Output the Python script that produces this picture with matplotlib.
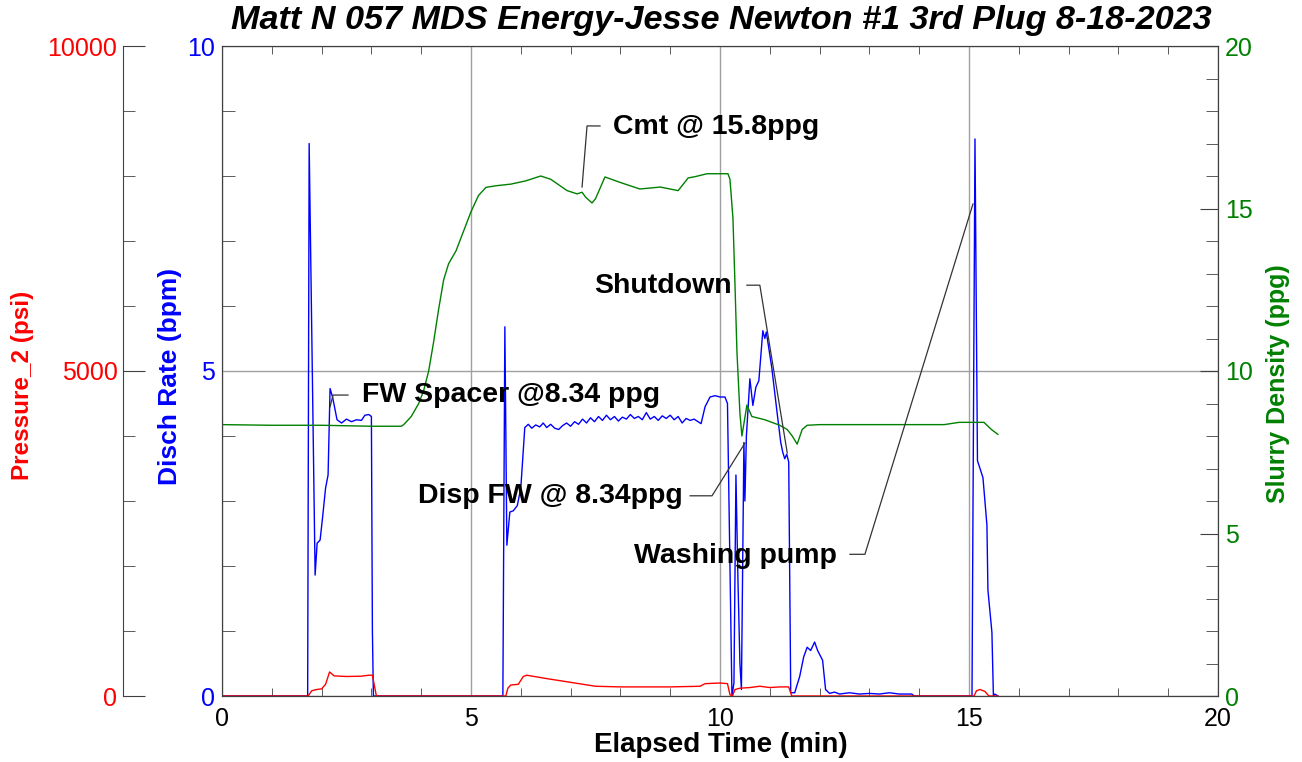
import matplotlib

matplotlib.use("Agg")
import matplotlib.pyplot as plt
from matplotlib.ticker import MultipleLocator

# Disch Rate (bpm)
rate_t = [0, 1.72, 1.75, 1.87, 1.91, 1.97, 2.02, 2.08, 2.13, 2.17, 2.22, 2.31,
          2.4, 2.5, 2.6, 2.7, 2.8, 2.87, 2.95, 3.0, 3.02, 3.04,
          5.64, 5.68, 5.72, 5.78, 5.85, 5.93, 6.0, 6.08,
          6.15, 6.22, 6.3, 6.38, 6.45, 6.52, 6.6, 6.68, 6.76, 6.84, 6.92, 7.0, 7.08,
          7.16, 7.24, 7.32, 7.4, 7.48, 7.56, 7.64, 7.72, 7.8, 7.88, 7.96, 8.04, 8.12,
          8.2, 8.28, 8.36, 8.44, 8.52, 8.6, 8.68, 8.76, 8.84, 8.92, 9.0, 9.08, 9.16,
          9.24, 9.32, 9.4, 9.48, 9.56, 9.62, 9.7, 9.8, 9.9, 10.0, 10.1, 10.15,
          10.2, 10.24, 10.28, 10.32, 10.36, 10.4, 10.43, 10.48, 10.5, 10.53, 10.6,
          10.66, 10.72, 10.78, 10.86, 10.9, 10.93, 11.04, 11.14, 11.22, 11.26, 11.3,
          11.34, 11.38, 11.42, 11.5, 11.6, 11.68, 11.75, 11.82, 11.9, 11.96, 12.06,
          12.12, 12.2, 12.3, 12.4, 12.6, 12.8, 13.0, 13.2, 13.4, 13.6, 13.85, 13.9,
          15.06, 15.12, 15.17, 15.2, 15.28, 15.36, 15.38, 15.46, 15.49, 15.52, 15.58]
rate_v = [0, 0, 8.5, 1.86, 2.35, 2.4, 2.75, 3.2, 3.4, 4.73, 4.6, 4.25,
          4.2, 4.26, 4.22, 4.25, 4.24, 4.32, 4.33, 4.3, 1.0, 0,
          0, 5.68, 2.32, 2.83, 2.85, 2.93, 3.2, 4.13,
          4.18, 4.12, 4.17, 4.14, 4.2, 4.13, 4.18, 4.12, 4.1, 4.16, 4.2, 4.15, 4.22,
          4.18, 4.26, 4.2, 4.28, 4.22, 4.3, 4.24, 4.32, 4.25, 4.3, 4.23, 4.29, 4.26,
          4.33, 4.27, 4.3, 4.25, 4.36, 4.26, 4.3, 4.24, 4.31, 4.27, 4.32, 4.25, 4.3,
          4.2, 4.27, 4.24, 4.26, 4.22, 4.19, 4.45, 4.6, 4.62, 4.6, 4.6, 4.5,
          2.0, 0.0, 0.2, 3.4, 1.8, 0.5, 0.1, 3.9, 3.0, 4.0, 4.88,
          4.47, 4.75, 4.85, 5.62, 5.5, 5.6, 5.05, 4.4, 3.9, 3.75, 3.65,
          3.72, 3.6, 0.05, 0.05, 0.3, 0.6, 0.75, 0.7, 0.83, 0.7, 0.55,
          0.1, 0.04, 0.06, 0.03, 0.05, 0.03, 0.04, 0.03, 0.05, 0.03, 0.03, 0,
          0, 8.57, 3.62, 3.55, 3.36, 2.63, 1.63, 0.98, 0.0, 0.03, 0.0]

# Pressure_2 (psi)
pres_t = [0, 1.73, 1.8, 1.9, 2.0, 2.08, 2.16, 2.25, 2.5, 2.8, 2.95, 3.02, 3.1,
          5.7, 5.74, 5.8, 5.95, 6.05, 6.12, 6.5, 7.0, 7.5, 8.0, 9.0, 9.6, 9.7,
          10.0, 10.15, 10.2, 10.25, 10.3, 10.4, 10.6, 10.8, 11.0, 11.2, 11.38,
          11.44, 15.1, 15.15, 15.22, 15.32, 15.4, 15.58]
pres_v = [0, 0, 80, 100, 110, 180, 370, 310, 300, 305, 320, 320, 0,
          0, 120, 170, 180, 300, 320, 270, 210, 150, 140, 140, 150, 190,
          200, 190, 20, 0, 100, 120, 130, 150, 130, 140, 140,
          0, 0, 80, 100, 70, 0, 0]

# Slurry Density (ppg)
dens_t = [0, 1.0, 2.0, 3.0, 3.6, 3.65, 3.8, 3.95, 4.05, 4.15, 4.25, 4.35, 4.45,
          4.55, 4.7, 4.85, 5.0, 5.15, 5.3, 5.5, 5.8, 6.1, 6.4, 6.6, 6.93, 7.13,
          7.23, 7.3, 7.43, 7.5, 7.69, 8.0, 8.39, 8.8, 9.16, 9.36, 9.5, 9.74, 10.16,
          10.2, 10.26, 10.3, 10.34, 10.4, 10.44, 10.54, 10.64, 10.9, 11.2, 11.35,
          11.45, 11.55, 11.65, 11.75, 12.0, 13.0, 14.5, 14.8, 15.3, 15.45, 15.58]
dens_v = [8.35, 8.33, 8.33, 8.3, 8.3, 8.35, 8.6, 9.0, 9.4, 10.0, 10.9, 11.9, 12.8,
          13.3, 13.7, 14.3, 14.9, 15.4, 15.65, 15.7, 15.75, 15.85, 16.0, 15.9, 15.55,
          15.45, 15.5, 15.35, 15.17, 15.3, 15.97, 15.8, 15.6, 15.66, 15.55, 15.94,
          15.98, 16.07, 16.07, 15.9, 14.7, 12.7, 10.6, 8.7, 8.0, 8.95, 8.6, 8.5,
          8.33, 8.2, 8.0, 7.75, 8.2, 8.33, 8.35, 8.35, 8.35, 8.42, 8.42, 8.2, 8.05]

# annotations: text, text anchor (min, bpm), alignment, leader polyline
notes = [
    ("FW Spacer @8.34 ppg", (2.81, 4.63), "left",
     [(2.53, 4.63), (2.23, 4.63), (2.17, 4.45)]),
    ("Cmt @ 15.8ppg", (7.85, 8.76), "left",
     [(7.59, 8.77), (7.33, 8.77), (7.23, 7.83)]),
    ("Shutdown", (10.24, 6.31), "right",
     [(10.54, 6.32), (10.8, 6.32), (11.35, 3.74)]),
    ("Disp FW @ 8.34ppg", (9.26, 3.08), "right",
     [(9.4, 3.08), (9.84, 3.08), (10.5, 3.89)]),
    ("Washing pump", (12.35, 2.15), "right",
     [(12.61, 2.18), (12.91, 2.18), (15.08, 7.57)]),
]

RED = "#ff0000"
BLUE = "#0000ff"
GREEN = "#008000"
SPINE = "#404040"
SANS = ["Liberation Sans", "DejaVu Sans"]
NARROW = ["Liberation Sans Narrow", "Liberation Sans", "DejaVu Sans"]
TICK_SIZE = 18

plt.rcParams["font.family"] = SANS

fig = plt.figure(figsize=(13.02, 7.62), dpi=100)
W, H = 1302, 762
left, right, top, bottom = 222, 1218, 46, 696
ax = fig.add_axes([left / W, 1 - bottom / H, (right - left) / W, (bottom - top) / H])
ax_p = ax.twinx()
ax_d = ax.twinx()

ax.plot(rate_t, rate_v, color=BLUE, lw=1.0)
ax_p.plot(pres_t, pres_v, color=RED, lw=1.0)
ax_d.plot(dens_t, dens_v, color=GREEN, lw=1.0)

# main axes (time / disch rate)
ax.set_xlim(0, 20)
ax.set_ylim(0, 10)
ax.xaxis.set_major_locator(MultipleLocator(5))
ax.xaxis.set_minor_locator(MultipleLocator(1))
ax.yaxis.set_major_locator(MultipleLocator(5))
ax.yaxis.set_minor_locator(MultipleLocator(1))
ax.grid(True, which="major", color="#a0a0a0", lw=1.0)
ax.tick_params(axis="x", which="both", direction="in", top=True, bottom=True,
               colors=SPINE, labelcolor="black", labelsize=TICK_SIZE, pad=8)
ax.tick_params(axis="x", which="major", length=0)
ax.tick_params(axis="x", which="minor", length=6)
ax.tick_params(axis="y", which="both", direction="in", left=True, right=False,
               colors=SPINE, labelcolor=BLUE, labelsize=TICK_SIZE, pad=5)
ax.tick_params(axis="y", which="major", length=0)
ax.tick_params(axis="y", which="minor", length=9)
for s in ax.spines.values():
    s.set_color(SPINE)

# pressure axis on the far left
ax_p.set_ylim(0, 10000)
ax_p.yaxis.set_ticks_position("left")
ax_p.yaxis.set_label_position("left")
ax_p.spines["left"].set_position(("axes", (123 - left) / (right - left)))
ax_p.spines["left"].set_visible(True)
ax_p.spines["left"].set_color(SPINE)
for k in ("right", "top", "bottom"):
    ax_p.spines[k].set_visible(False)
ax_p.yaxis.set_major_locator(MultipleLocator(5000))
ax_p.yaxis.set_minor_locator(MultipleLocator(1000))
ax_p.tick_params(axis="y", which="both", direction="in", colors=SPINE,
                 labelcolor=RED, labelsize=TICK_SIZE, pad=4)
ax_p.tick_params(axis="y", which="major", length=16)
ax_p.tick_params(axis="y", which="minor", length=8.5)

# density axis on the right
ax_d.set_ylim(0, 20)
ax_d.yaxis.set_major_locator(MultipleLocator(5))
ax_d.yaxis.set_minor_locator(MultipleLocator(1))
ax_d.tick_params(axis="y", which="both", direction="in", colors=SPINE,
                 labelcolor=GREEN, labelsize=TICK_SIZE, pad=5)
ax_d.tick_params(axis="y", which="major", length=13)
ax_d.tick_params(axis="y", which="minor", length=8.5)
for s in ax_d.spines.values():
    s.set_color(SPINE)

for text, (tx, ty), ha, leader in notes:
    ax_d.text(tx, ty * 2, text, ha=ha, va="center", fontsize=20.5,
              fontweight="bold", color="black")
    xs = [p[0] for p in leader]
    ys = [p[1] * 2 for p in leader]
    ax_d.plot(xs, ys, color="#333333", lw=0.9)

fig.text(721 / W, 1 - 20 / H, "Matt N 057 MDS Energy-Jesse Newton #1 3rd Plug 8-18-2023",
         ha="center", va="center", fontsize=24.7, fontweight="bold", style="italic")
fig.text(23 / W, 1 - 385 / H, "Pressure_2 (psi)", rotation=90, ha="center",
         va="center", fontsize=17.5, fontweight="bold", color=RED, family=NARROW)
fig.text(170 / W, 1 - 376 / H, "Disch Rate (bpm)", rotation=90, ha="center",
         va="center", fontsize=19, fontweight="bold", color=BLUE, family=NARROW)
fig.text(1278 / W, 1 - 384 / H, "Slurry Density (ppg)", rotation=90, ha="center",
         va="center", fontsize=18, fontweight="bold", color=GREEN, family=NARROW)
fig.text(721 / W, 1 - 745 / H, "Elapsed Time (min)", ha="center", va="center",
         fontsize=20, fontweight="bold", family=NARROW)

fig.savefig("out.png", dpi=100)
plt.close(fig)
